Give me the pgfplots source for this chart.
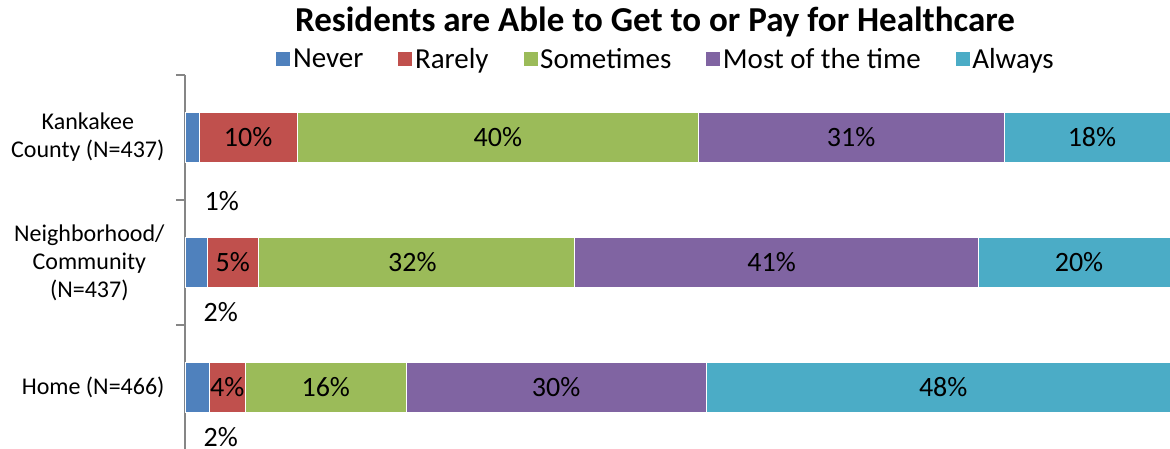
\documentclass[border=0pt]{standalone}
\usepackage{pgfplots}
\pgfplotsset{compat=1.18}
\usepackage{pgfplotstable}
\usepackage{fontspec}
\setmainfont{Carlito}
\definecolor{cNever}{HTML}{4F81BD}
\definecolor{cRarely}{HTML}{C0504D}
\definecolor{cSome}{HTML}{9BBB59}
\definecolor{cMost}{HTML}{8064A2}
\definecolor{cAlways}{HTML}{4BACC6}
\definecolor{axgray}{HTML}{868686}

% stacked shares (percent)
\pgfplotstableread{
y never rarely some most always
0 1.4 9.9 40.3 30.7 17.7
1 2.2 5.2 31.7 40.6 20.3
2 2.4 3.7 16.1 30.2 47.6
}\data

% label positions and texts
\pgfplotstableread{
x y lab
6.35 0 10\%
31.45 0 40\%
66.95 0 31\%
91.15 0 18\%
4.8 1 5\%
22.85 1 32\%
58.95 1 41\%
89.85 1 20\%
4.25 2 4\%
14.15 2 16\%
37.3 2 30\%
76.2 2 48\%
3.7 0.51 1\%
3.6 1.40 2\%
3.6 2.40 2\%
}\labels

\begin{document}
\begin{tikzpicture}
\pgfplotsset{
  base/.style={
    at={(185pt,-450pt)}, anchor=south west,
    scale only axis, width=995pt, height=375pt,
    xmin=0, xmax=100, ymin=-0.5, ymax=2.5, y dir=reverse,
  }
}
\begin{axis}[base,
  xbar stacked, bar width=50pt,
  axis x line=none, axis y line*=left,
  y axis line style={draw=axgray, line width=1.2pt},
  tick align=outside,
  ytick={0,1,2},
  yticklabels={Kankakee\\County (N=437), Neighborhood/\\Community\\(N=437), Home (N=466)},
  major tick length=0pt,
  minor ytick={-0.5,0.5,1.5,2.5},
  minor tick length=9pt,
  every minor tick/.append style={draw=axgray, line width=1.2pt},
  yticklabel style={align=center, font=\fontsize{24}{28}\selectfont, xshift=-17pt},
  legend columns=5,
  legend style={at={(0.483,1.043)}, anchor=center, draw=none, fill=none,
    font=\fontsize{29}{32}\selectfont, inner sep=0pt,
    /tikz/every even column/.append style={column sep=32pt}},
  legend image code/.code={\fill[#1] (0pt,-7.5pt) rectangle (15pt,7.5pt);},
  every axis plot/.append style={draw=white, line width=0.6pt},
]
\addplot[fill=cNever] table[x=never, y=y] {\data};
\addplot[fill=cRarely] table[x=rarely, y=y] {\data};
\addplot[fill=cSome] table[x=some, y=y] {\data};
\addplot[fill=cMost] table[x=most, y=y] {\data};
\addplot[fill=cAlways] table[x=always, y=y] {\data};
\legend{Never, Rarely, Sometimes, Most of the time, Always}
\end{axis}
\begin{axis}[base, hide axis, clip=false]
\addplot[only marks, mark=none, nodes near coords, point meta=explicit symbolic,
  nodes near coords style={anchor=center, font=\fontsize{28}{30}\selectfont, text=black}]
  table[x=x, y=y, meta=lab] {\labels};
\end{axis}
\node[font=\fontsize{35}{40}\selectfont\bfseries] at (655pt,-22pt) {Residents are Able to Get to or Pay for Healthcare};
\pgfresetboundingbox
\path[use as bounding box] (0pt,0pt) rectangle (1170pt,-448pt);
\end{tikzpicture}
\end{document}
